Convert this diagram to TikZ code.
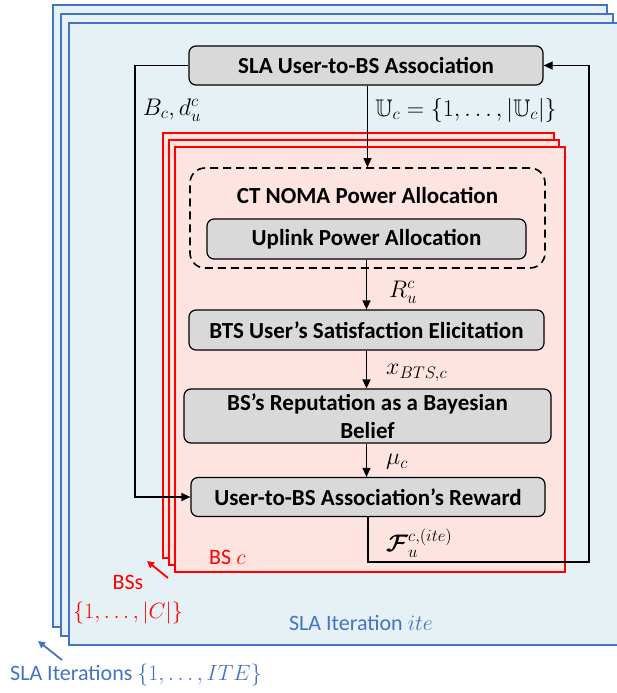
\RequirePackage{fix-cm}
\documentclass[tikz,border=0pt]{standalone}
\usepackage{amsmath,amssymb,bm}
\usepackage{fontspec}
\setmainfont{Carlito}
\usetikzlibrary{arrows.meta}
\definecolor{bluel}{HTML}{4472C4}
\definecolor{bluef}{HTML}{E6F1F5}
\definecolor{pinkf}{HTML}{FDE4E1}
\definecolor{boxg}{HTML}{D9D9D9}
\begin{document}
\begin{tikzpicture}[x=1pt,y=-1pt,
  gbox/.style={draw=black, fill=boxg, rounded corners=7pt, line width=1.2pt, align=center, inner sep=0pt, font=\fontsize{23}{28}\selectfont\bfseries},
  arr/.style={line width=1.2pt, -{Triangle[length=9pt,width=8pt]}},
  bframe/.style={draw=bluel, fill=bluef, line width=2.2pt},
  rframe/.style={draw=red, fill=pinkf, line width=2pt},
  lab/.style={font=\fontsize{22}{24}\selectfont, inner sep=0pt},
  mlab/.style={font=\fontsize{24}{26}\selectfont, inner sep=0pt},
  redlab/.style={lab, text=red},
  bluelab/.style={lab, text=bluel}]
\useasboundingbox (0,0) rectangle (617,693);
% blue frames
\draw[bframe] (53,5) rectangle (607,627);
\draw[bframe] (61,14) rectangle (613,636);
\draw[bframe] (69,23) rectangle (630,645);
% red frames
\draw[rframe] (163,133) rectangle (554,558);
\draw[rframe] (169,140) rectangle (559,565);
\draw[rframe] (175,147) rectangle (565,572);
% boxes
\node[gbox, minimum width=354pt, minimum height=39pt] (top) at (366,65.5) {SLA User-to-BS Association};
\node[draw=black, dashed, dash pattern=on 8pt off 5pt, line width=1.6pt, rounded corners=15pt, minimum width=355pt, minimum height=100pt, inner sep=0pt] (ct) at (367.5,218) {};
\node[font=\fontsize{23}{26}\selectfont\bfseries, inner sep=0pt] (cttext) at (367.5,195) {CT NOMA Power Allocation};
\node[gbox, minimum width=319pt, minimum height=40pt] (up) at (366.5,239) {Uplink Power Allocation};
\node[gbox, minimum width=355pt, minimum height=40pt] (bts) at (366.5,330) {BTS User’s Satisfaction Elicitation};
\node[gbox, minimum width=367pt, minimum height=54pt] (bay) at (367.5,416) {BS’s Reputation as a Bayesian\\Belief};
\node[gbox, minimum width=354pt, minimum height=39pt] (rew) at (368,497) {User-to-BS Association’s Reward};
% connectors
\coordinate (lt) at (135,65.5);
\coordinate (lb) at (135,497);
\coordinate (rb1) at (368,562);
\coordinate (rb2) at (589,562);
\coordinate (rt) at (589,65.5);
\draw[arr] (top.south -| ct.north) -- (ct.north);
\draw[arr] (up.south) -- (up.south |- bts.north);
\draw[arr] (bts.south) -- (bts.south |- bay.north);
\draw[arr] (bts.south |- bay.south) -- (bts.south |- rew.north);
\draw[arr] (top.west) -- (lt) -- (lb) -- (rew.west);
\draw[arr] (rew.south) -- (rb1) -- (rb2) -- (rt) -- (top.east);
% labels
\node[mlab] (l1) at (172,110) {$B_c, d_u^c$};
\node[mlab] (l2) at (466,110) {$\mathbb{U}_c=\{1,\ldots,|\mathbb{U}_c|\}$};
\node[mlab, anchor=west] (l3) at (389,292) {$R_u^c$};
\node[mlab, anchor=west] (l4) at (386,373) {$x_{BTS,c}$};
\node[mlab, anchor=west] (l5) at (386,462) {$\mu_c$};
\node[mlab, anchor=west] (l6) at (386,543) {$\bm{\mathcal{F}}_u^{c,(ite)}$};
\node[redlab, anchor=west] (bsc) at (209,557) {BS $c$};
\node[redlab] (bss) at (128,582) {BSs};
\node[redlab] (bsset) at (128,613) {$\{1,\ldots,|C|\}$};
\coordinate (rarT) at (147,561);
\coordinate (rarS) at (168,578);
\draw[red, line width=1.8pt, -{Triangle[length=7pt,width=7pt]}] (rarS) -- (rarT);
\node[bluelab] (slai) at (361,623) {SLA Iteration $ite$};
\node[bluelab] (slas) at (136,675) {SLA Iterations $\{1,\ldots,ITE\}$};
\coordinate (barT) at (38,641);
\coordinate (barS) at (62,660);
\draw[bluel, line width=1.8pt, -{Triangle[length=7pt,width=7pt]}] (barS) -- (barT);
\end{tikzpicture}
\end{document}
